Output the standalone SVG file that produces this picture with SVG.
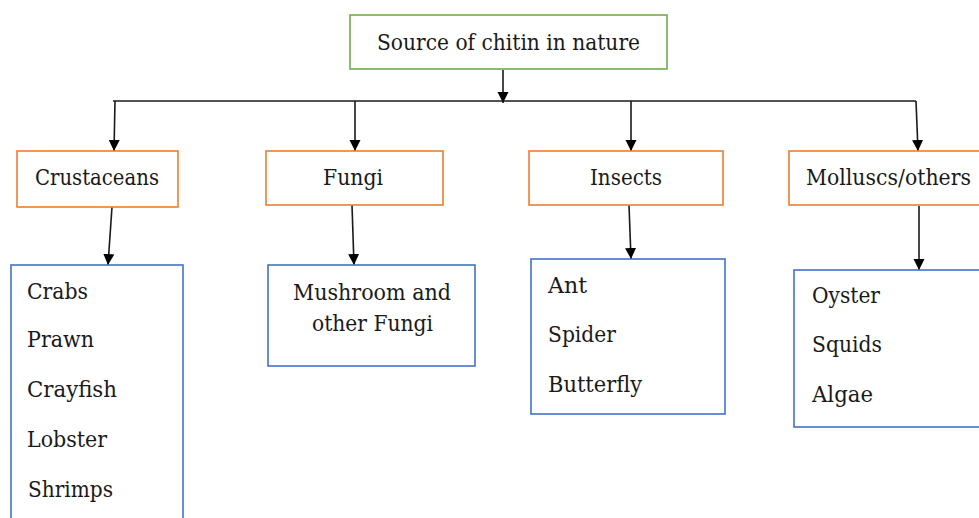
<svg xmlns="http://www.w3.org/2000/svg" width="979" height="518" viewBox="0 0 979 518">
<style>
.bg{fill:#ffffff}
.root{fill:#ffffff;stroke:#70AD47;stroke-width:1.6}
.cat{fill:#ffffff;stroke:#ED7D31;stroke-width:1.6}
.list{fill:#ffffff;stroke:#4472C4;stroke-width:1.6}
text{font-family:'DejaVu Serif',serif;font-size:22px;fill:#1a1a1a}
.c{text-anchor:middle}
.conn line,.conn polyline{stroke:#1a1a1a;stroke-width:1.6;fill:none}
</style>
<defs>
<marker id="arr" markerUnits="userSpaceOnUse" markerWidth="12" markerHeight="12" refX="11" refY="6" orient="auto" viewBox="0 0 12 12">
<path d="M0,0.5 L11,6 L0,11.5 z" fill="#000000"/>
</marker>
</defs>
<rect class="bg" x="0" y="0" width="979" height="518"/>
<g id="connectors" class="conn">
<line x1="503" y1="70" x2="503" y2="103" marker-end="url(#arr)"/>
<polyline points="113,101 916,101"/>
<line x1="115" y1="101" x2="114" y2="151" marker-end="url(#arr)"/>
<line x1="355" y1="101" x2="355" y2="151" marker-end="url(#arr)"/>
<line x1="631" y1="101" x2="631" y2="151" marker-end="url(#arr)"/>
<line x1="916" y1="101" x2="918" y2="151" marker-end="url(#arr)"/>
<line x1="112" y1="207" x2="108" y2="265" marker-end="url(#arr)"/>
<line x1="352" y1="205" x2="354" y2="265" marker-end="url(#arr)"/>
<line x1="629" y1="205" x2="631" y2="259" marker-end="url(#arr)"/>
<line x1="919" y1="206" x2="919" y2="270" marker-end="url(#arr)"/>
</g>
<g id="node-root">
<rect class="root" x="350" y="15" width="317" height="54"/>
<text class="c" x="508.5" y="50" textLength="263" lengthAdjust="spacingAndGlyphs">Source of chitin in nature</text>
</g>
<g id="node-crustaceans">
<rect class="cat" x="17" y="151" width="161" height="56"/>
<text class="c" x="97" y="185" textLength="124" lengthAdjust="spacingAndGlyphs">Crustaceans</text>
</g>
<g id="node-fungi">
<rect class="cat" x="266" y="151" width="177" height="54"/>
<text class="c" x="353" y="185" textLength="60" lengthAdjust="spacingAndGlyphs">Fungi</text>
</g>
<g id="node-insects">
<rect class="cat" x="529" y="151" width="194" height="54"/>
<text class="c" x="626" y="185" textLength="72" lengthAdjust="spacingAndGlyphs">Insects</text>
</g>
<g id="node-molluscs">
<rect class="cat" x="789" y="151" width="200" height="54"/>
<text x="806" y="185" textLength="165" lengthAdjust="spacingAndGlyphs">Molluscs/others</text>
</g>
<g id="node-crustaceans-list">
<rect class="list" x="11" y="265" width="172" height="270"/>
<text x="27" y="299" textLength="61" lengthAdjust="spacingAndGlyphs">Crabs</text>
<text x="27" y="347" textLength="67" lengthAdjust="spacingAndGlyphs">Prawn</text>
<text x="27" y="397" textLength="90" lengthAdjust="spacingAndGlyphs">Crayfish</text>
<text x="27" y="447" textLength="80" lengthAdjust="spacingAndGlyphs">Lobster</text>
<text x="28" y="497" textLength="85" lengthAdjust="spacingAndGlyphs">Shrimps</text>
</g>
<g id="node-fungi-list">
<rect class="list" x="268" y="265" width="207" height="101"/>
<text class="c" x="372" y="300" textLength="158" lengthAdjust="spacingAndGlyphs">Mushroom and</text>
<text class="c" x="372.5" y="331" textLength="121" lengthAdjust="spacingAndGlyphs">other Fungi</text>
</g>
<g id="node-insects-list">
<rect class="list" x="531" y="259" width="194" height="155"/>
<text x="548" y="293" textLength="39" lengthAdjust="spacingAndGlyphs">Ant</text>
<text x="548" y="342" textLength="68" lengthAdjust="spacingAndGlyphs">Spider</text>
<text x="548" y="392" textLength="94" lengthAdjust="spacingAndGlyphs">Butterfly</text>
</g>
<g id="node-molluscs-list">
<rect class="list" x="794" y="270" width="200" height="157"/>
<text x="812" y="303" textLength="68" lengthAdjust="spacingAndGlyphs">Oyster</text>
<text x="812" y="352" textLength="70" lengthAdjust="spacingAndGlyphs">Squids</text>
<text x="812" y="402" textLength="61" lengthAdjust="spacingAndGlyphs">Algae</text>
</g>
</svg>
